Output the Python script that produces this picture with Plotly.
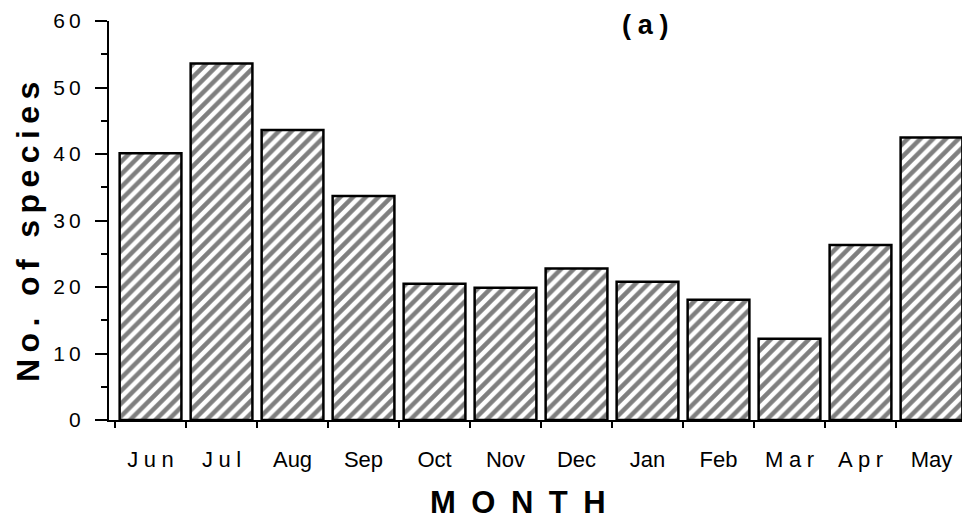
import plotly.graph_objects as go

# ---- data ----
months = ["Jun", "Jul", "Aug", "Sep", "Oct", "Nov", "Dec", "Jan", "Feb", "Mar", "Apr", "May"]
species = [40.1, 53.6, 43.6, 33.7, 20.5, 19.9, 22.8, 20.8, 18.1, 12.2, 26.3, 42.5]
month_ticktext = ["J\u2005u\u2005n", "J\u2005u\u2005l", "Aug", "Sep", "Oct", "Nov", "Dec", "Jan", "Feb",
                  "M\u2005a\u2005r", "A\u2005p\u2005r", "May"]
y_tickvals = [0, 10, 20, 30, 40, 50, 60]
y_ticktext = ["0", "1\u20090", "2\u20090", "3\u20090", "4\u20090", "5\u20090", "6\u20090"]

FONT = "Liberation Sans, Arial, sans-serif"

# page has an 8px body margin; figure is sized/positioned to compensate
W, H = 962, 517
L, R, T, B = 101, 3, 13, 105
PW, PH = W - L - R, H - T - B


def px(xf):
    return (xf - L) / PW


def py(yf):
    return 1 - (yf - T) / PH


fig = go.Figure()
fig.add_trace(go.Bar(
    x=months, y=species,
    width=0.87,
    marker=dict(
        color="white",
        line=dict(color="black", width=2.5),
        pattern=dict(shape="/", size=9, solidity=0.5, fgcolor="black", bgcolor="white"),
    ),
    showlegend=False,
))

fig.update_layout(
    width=W, height=H,
    margin=dict(l=L, r=R, t=T, b=B, autoexpand=False),
    plot_bgcolor="white", paper_bgcolor="white",
    font=dict(family=FONT, color="black"),
    bargap=0.13,
)

fig.update_xaxes(
    type="category", automargin=False,
    categoryorder="array", categoryarray=months,
    tickvals=months, ticktext=month_ticktext,
    range=[-0.585, 11.5],
    tickson="boundaries",
    ticks="outside", ticklen=6, tickwidth=2, tickcolor="black",
    showline=True, linecolor="black", linewidth=2,
    showgrid=False, zeroline=False,
    tickfont=dict(size=22, family=FONT),
    ticklabelstandoff=19,
    ticklabeloverflow="allow",
)

fig.update_yaxes(
    range=[0, 60], automargin=False,
    tickvals=y_tickvals, ticktext=y_ticktext,
    ticks="outside", ticklen=12, tickwidth=2, tickcolor="black",
    minor=dict(dtick=5, ticks="outside", ticklen=6, tickwidth=2, tickcolor="black", showgrid=False),
    showline=True, linecolor="black", linewidth=2,
    showgrid=False, zeroline=False,
    tickfont=dict(size=21, family=FONT),
    ticklabelstandoff=10,
    ticklabeloverflow="allow",
)

# axis titles (placed as annotations for exact position)
fig.add_annotation(
    text="<b>N\u2009o\u2009.\u2009 \u2009o\u2009f\u2009 \u2009s\u2009p\u2009e\u2009c\u2009i\u2009e\u2009s</b>",
    xref="paper", yref="paper", x=px(20), y=py(224), textangle=-90,
    xanchor="center", yanchor="middle", showarrow=False,
    font=dict(size=32, family=FONT),
)
fig.add_annotation(
    text="<b>M\u2002O\u2002N\u2002T\u2002H</b>",
    xref="paper", yref="paper", x=px(510), y=py(494),
    xanchor="center", yanchor="middle", showarrow=False,
    font=dict(size=31, family=FONT),
)
fig.add_annotation(
    text="<b>(\u2005a\u2005)</b>", xref="paper", yref="paper",
    x=px(637), y=py(17),
    xanchor="center", yanchor="middle",
    showarrow=False, font=dict(size=27, family=FONT),
)

fig.write_html("out.html")
